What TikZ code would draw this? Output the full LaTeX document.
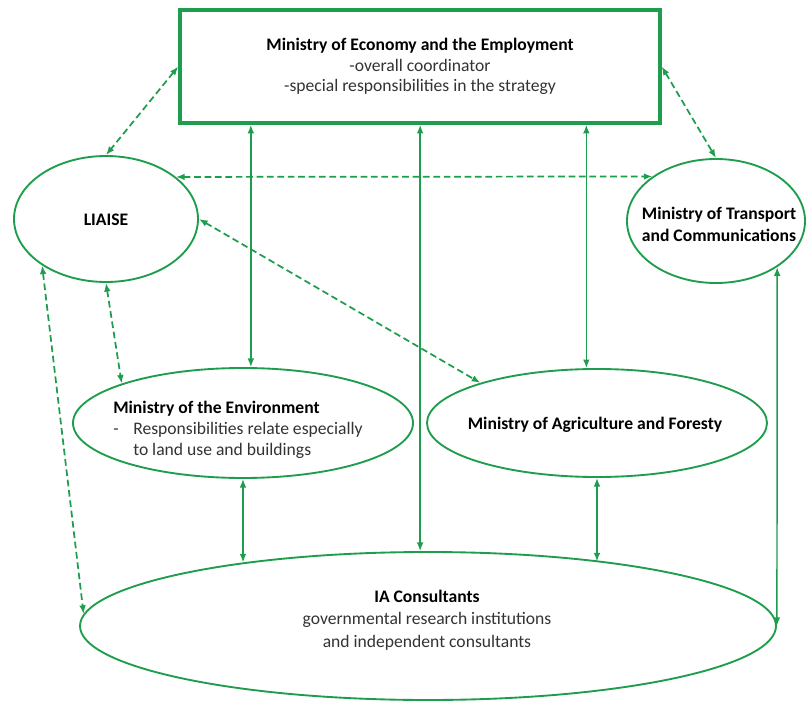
\documentclass[tikz,border=0pt]{standalone}
\usepackage{fontspec}
\setmainfont{Carlito}
\usetikzlibrary{shapes.geometric,arrows.meta}
\definecolor{grn}{HTML}{1E9E4C}
\definecolor{txt}{HTML}{333333}
\tikzset{
  ell/.style={ellipse, draw=grn, line width=1.4pt, inner sep=0pt},
  ecobox/.style={rectangle, draw=grn, line width=2.6pt, inner sep=0pt},
  solidarrow/.style={draw=grn, line width=1.1pt, {Latex[length=6.5pt,width=5pt]}-{Latex[length=6.5pt,width=5pt]}},
  dasharrow/.style={draw=grn, line width=1.3pt, dash pattern=on 5pt off 2.8pt, {Latex[length=6.5pt,width=5pt]}-{Latex[length=6.5pt,width=5pt]}},
  lbl/.style={font=\fontsize{13.2}{15.5}\selectfont, text=txt, align=center, inner sep=0pt},
  ttl/.style={lbl, font=\fontsize{13.2}{16.5}\selectfont\bfseries, text=black},
}
\begin{document}
\begin{tikzpicture}[x=0.75pt,y=-0.75pt]
\useasboundingbox[fill=white] (0,0) rectangle (807,702);

% nodes
\node[ecobox, minimum width=360pt, minimum height=84.75pt, lbl] (eco) at (420,66.5)
  {\textcolor{black}{\bfseries Ministry of Economy and the Employment}\\-overall coordinator\\-special responsibilities in the strategy};

\node[ell, minimum width=138pt, minimum height=94.5pt] (liaise) at (106,219) {};
\node[ttl] (liaiset) at (106,220) {LIAISE};

\node[ell, minimum width=133.5pt, minimum height=93pt] (trans) at (716,221) {};
\node[ttl] (transt) at (719,224) {Ministry of Transport\\and Communications};

\node[ell, minimum width=255pt, minimum height=82.5pt] (env) at (243,423) {};
\node[lbl, align=left, anchor=west] (envt) at (113,430)
  {\textcolor{black}{\bfseries Ministry of the Environment}\\
   \makebox[15pt][l]{-}Responsibilities relate especially\\
   \hspace*{15pt}to land use and buildings};

\node[ell, minimum width=255pt, minimum height=81pt] (agri) at (597,423) {};
\node[ttl] (agrit) at (595,425) {Ministry of Agriculture and Foresty};

\node[ell, minimum width=522pt, minimum height=111pt] (cons) at (428,626) {};
\node[lbl, font=\fontsize{13.2}{17}\selectfont] (const) at (427,620)
  {\textcolor{black}{\bfseries IA Consultants}\\governmental research institutions\\and independent consultants};

% solid connectors
\draw[solidarrow] (eco.south -| env.82.7) -- (env.82.7);
\draw[solidarrow] (eco.south -| cons.96.9) -- (cons.96.9);
\draw[solidarrow] (eco.south -| agri.101.5) -- (agri.101.5);
\draw[solidarrow] (env.south) -- (env.south |- cons.161.3);
\draw[solidarrow] (agri.south) -- (agri.south |- cons.20.9);
\draw[solidarrow] (trans.-37) -- (cons.east);

% dashed connectors
\draw[dasharrow] (eco.west) -- (liaise.north);
\draw[dasharrow] (eco.east) -- (trans.north);
\draw[dasharrow] (liaise.31.5) -- (trans.145);
\draw[dasharrow] (liaise.east) -- (agri.161);
\draw[dasharrow] (liaise.south) -- (env.162.3);
\draw[dasharrow] (liaise.216) -- (cons.178.5);
\end{tikzpicture}
\end{document}
